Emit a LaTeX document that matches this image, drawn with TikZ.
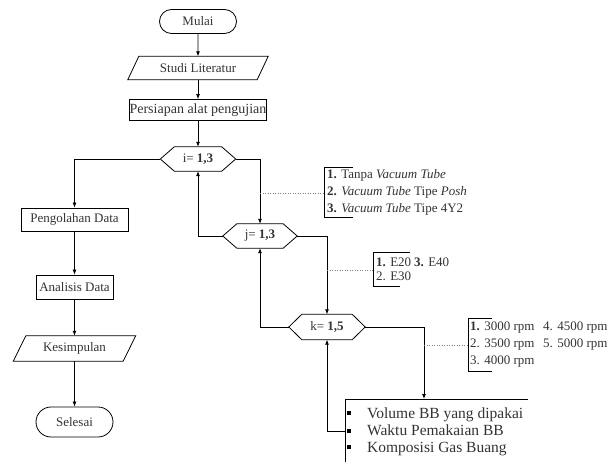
\documentclass[tikz,border=0pt]{standalone}
\usepackage{fontspec}
\setmainfont{Liberation Serif}
\usetikzlibrary{shapes.misc,arrows.meta,calc}
\begin{document}
\begin{tikzpicture}[x=1pt,y=-1pt,
  every node/.style={font=\fontsize{13}{15}\selectfont, text=black!80},
  line/.style={draw=black, line width=0.8pt},
  arr/.style={line, -{Latex[length=5pt,width=4pt]}},
  box/.style={draw=black, line width=0.8pt, rectangle, inner sep=0pt},
  term/.style={draw=black, line width=0.8pt, rounded rectangle, inner sep=0pt},
  plain/.style={inner sep=0pt},
  txt/.style={inner sep=0pt, anchor=base west},
  big/.style={font=\fontsize{15.5}{17}\selectfont},
  note/.style={dotted, draw=gray, line width=0.5pt},
  bullet/.style={fill=black, inner sep=0pt, minimum size=4pt},
]
\useasboundingbox (0,0) rectangle (616,462);

% main column
\node[term, minimum width=77, minimum height=24] (mulai) at (198,21.5) {Mulai};
\node[plain, minimum width=129, minimum height=23] (studi) at (198,68) {Studi Literatur};
\draw[line] ([xshift=5.5]studi.north west) -- ([xshift=5.5]studi.north east) -- ([xshift=-5.5]studi.south east) -- ([xshift=-5.5]studi.south west) -- cycle;
\node[box, minimum width=136, minimum height=21, font=\fontsize{14}{16}\selectfont] (pers) at (198,110) {Persiapan alat pengujian};

\node[plain, minimum width=75, minimum height=24] (i) at (198,159) {i= \textbf{1,3}};
\draw[line] (i.west) -- ([xshift=14]i.north west) -- ([xshift=-14]i.north east) -- (i.east) -- ([xshift=-14]i.south east) -- ([xshift=14]i.south west) -- cycle;

\node[plain, minimum width=74, minimum height=24] (j) at (260,236) {j= \textbf{1,3}};
\draw[line] (j.west) -- ([xshift=14]j.north west) -- ([xshift=-14]j.north east) -- (j.east) -- ([xshift=-14]j.south east) -- ([xshift=14]j.south west) -- cycle;

\node[plain, minimum width=76, minimum height=25] (k) at (327,327) {k= \textbf{1,5}};
\draw[line] (k.west) -- ([xshift=13]k.north west) -- ([xshift=-13]k.north east) -- (k.east) -- ([xshift=-13]k.south east) -- ([xshift=13]k.south west) -- cycle;

% results box
\node[plain, minimum width=183, minimum height=64, anchor=north west] (res) at (345,399) {};
\draw[line] (res.south west) -- (res.north west) -- (res.north east);
\coordinate (resin) at (424,399);
\node[bullet] (b1) at (349,413) {};
\node[bullet] (b2) at (349,431) {};
\node[bullet] (b3) at (349,447) {};
\begin{scope}
\clip (345,399) rectangle (528,463);
\node[txt, big] (r1) at (367,418) {Volume BB yang dipakai};
\node[txt, big] (r2) at (367,435.5) {Waktu Pemakaian BB};
\node[txt, big] (r3) at (367,452) {Komposisi Gas Buang};
\end{scope}

% left column
\node[box, minimum width=107, minimum height=23] (olah) at (74.5,219.5) {Pengolahan Data};
\node[box, minimum width=77, minimum height=24] (anal) at (74.5,287) {Analisis Data};
\node[plain, minimum width=109.5, minimum height=25] (kes) at (74.5,348.5) {Kesimpulan};
\draw[line] ([xshift=6.25]kes.north west) -- ([xshift=6.25]kes.north east) -- ([xshift=-6.25]kes.south east) -- ([xshift=-6.25]kes.south west) -- cycle;
\node[term, minimum width=77, minimum height=30] (sel) at (74.5,422) {Selesai};

% connectors
\draw[arr] (mulai) -- (studi);
\draw[arr] (studi) -- (pers);
\draw[arr] (pers) -- (i);
\draw[arr] (i.west) -| (olah.north);
\draw[arr] (olah) -- (anal);
\draw[arr] (anal) -- (kes);
\draw[arr] (kes) -- (sel);
\draw[arr] (i.east) -| (j.north);
\draw[arr] (j.west) -| (i.south);
\draw[arr] (j.east) -| (k.north);
\draw[arr] (k.west) -| (j.south);
\draw[arr] (k.east) -| (resin);
\draw[arr] (res.west) -| (k.south);

% annotation 1
\coordinate (a1) at (260,193);
\draw[line] (353,167) -- (324,167) -- (324,217) -- (353,217);
\coordinate (a1b) at (324,193);
\draw[note] (a1) -- (a1b);
\node[txt] (n11) at (327,179) {\textbf{1.} Tanpa \textit{Vacuum Tube}};
\node[txt] (n12) at (327,196) {\textbf{2.} \textit{Vacuum Tube} Tipe \textit{Posh}};
\node[txt] (n13) at (327,213) {\textbf{3.} \textit{Vacuum Tube} Tipe 4Y2};

% annotation 2
\coordinate (a2) at (327,270);
\coordinate (a2b) at (373,270);
\draw[line] (410,252) -- (373,252) -- (373,286) -- (400,286);
\draw[note] (a2) -- (a2b);
\node[txt] (n21) at (376,267) {\textbf{1.} E20};
\node[txt] (n24) at (414,267) {\textbf{3.} E40};
\node[txt] (n22) at (376,281) {2. E30};

% annotation 3
\coordinate (a3) at (424,345);
\coordinate (a3b) at (468,345);
\draw[line] (492,318) -- (468,318) -- (468,371) -- (492,371);
\draw[note] (a3) -- (a3b);
\node[txt] (n31) at (470,331) {\textbf{1.} 3000 rpm};
\node[txt] (n34) at (543,331) {4. 4500 rpm};
\node[txt] (n32) at (470,348) {2. 3500 rpm};
\node[txt] (n35) at (543,348) {5. 5000 rpm};
\node[txt] (n33) at (470,365) {3. 4000 rpm};
\end{tikzpicture}
\end{document}
